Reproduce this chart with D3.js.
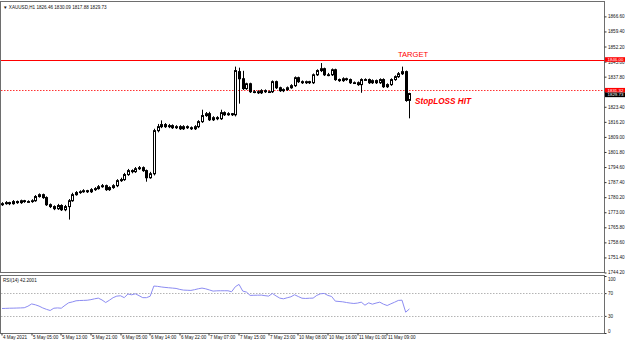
<!DOCTYPE html>
<html>
<head>
<meta charset="utf-8">
<script src="https://cdn.jsdelivr.net/npm/d3@7"></script>
<style>
  body { margin: 0; background: #fff; }
  svg { display: block; font-family: 'Liberation Sans', Arial, sans-serif; }
</style>
</head>
<body>
<svg id="chart"></svg>
<script>
// XAUUSD H1 bars
const opens = [
  1776.6, 1777.1, 1777.6, 1777.1, 1778.1, 1777.6, 1778.5, 1778.1, 1778.1, 1778.5,
  1780.5, 1781.4, 1780.0, 1776.6, 1775.7, 1774.7, 1776.2, 1774.2, 1775.7, 1778.5,
  1781.4, 1782.4, 1782.8, 1783.3, 1782.8, 1783.8, 1784.3, 1785.2, 1785.7, 1783.8,
  1784.8, 1785.7, 1788.1, 1788.6, 1791.0, 1792.9, 1792.4, 1793.8, 1794.3, 1792.9,
  1789.5, 1791.4, 1812.0, 1813.9, 1814.9, 1813.9, 1814.4, 1813.4, 1813.9, 1812.9,
  1813.9, 1813.4, 1812.9, 1813.9, 1816.3, 1819.2, 1820.1, 1817.2, 1818.2, 1817.7,
  1820.6, 1819.6, 1820.1, 1819.6, 1840.2, 1836.8, 1832.1, 1834.4, 1830.6, 1830.6,
  1830.1, 1831.1, 1830.6, 1830.6, 1835.4, 1832.5, 1831.1, 1831.6, 1832.5, 1833.5,
  1837.3, 1835.4, 1834.9, 1835.4, 1834.9, 1838.7, 1840.7, 1841.6, 1838.7, 1838.7,
  1841.1, 1836.4, 1835.9, 1836.8, 1836.4, 1834.9, 1834.9, 1834.0, 1836.4, 1836.4,
  1834.9, 1835.9, 1834.9, 1836.4, 1833.0, 1834.0, 1836.4, 1837.8, 1839.2, 1840.2,
  1826.46
];
const highs = [
  1777.8, 1778.3, 1778.0, 1778.8, 1778.6, 1779.0, 1778.9, 1778.7, 1779.2, 1781.2,
  1782.0, 1781.9, 1780.6, 1777.2, 1776.3, 1777.0, 1776.8, 1776.5, 1779.3, 1782.3,
  1783.1, 1783.5, 1784.0, 1783.7, 1784.5, 1785.0, 1786.0, 1786.5, 1786.2, 1785.4,
  1786.4, 1788.8, 1789.5, 1791.8, 1793.7, 1793.5, 1794.6, 1795.1, 1794.9, 1793.4,
  1792.3, 1812.9, 1815.2, 1816.9, 1815.6, 1815.2, 1815.0, 1814.6, 1814.6, 1814.6,
  1814.5, 1814.0, 1814.6, 1817.0, 1822.0, 1820.9, 1821.0, 1818.9, 1818.9, 1822.0,
  1821.2, 1820.8, 1820.4, 1842.6, 1842.1, 1840.6, 1834.9, 1834.9, 1831.4, 1831.3,
  1831.8, 1831.7, 1831.2, 1836.0, 1835.9, 1833.0, 1832.2, 1833.1, 1834.2, 1837.9,
  1837.8, 1836.0, 1835.9, 1835.8, 1839.3, 1841.3, 1844.3, 1842.1, 1839.6, 1841.7,
  1841.6, 1836.9, 1837.5, 1837.3, 1836.9, 1835.5, 1835.5, 1837.0, 1837.0, 1836.9,
  1836.5, 1836.4, 1837.0, 1837.0, 1834.6, 1837.0, 1838.4, 1840.0, 1842.6, 1840.7,
  1830.09
];
const lows = [
  1776.0, 1776.6, 1776.4, 1776.6, 1777.0, 1777.0, 1777.5, 1777.5, 1777.5, 1778.0,
  1780.0, 1779.4, 1776.0, 1775.0, 1774.0, 1774.1, 1773.6, 1773.5, 1769.5, 1778.0,
  1780.9, 1781.8, 1782.3, 1782.2, 1782.2, 1783.2, 1783.8, 1784.7, 1783.2, 1783.2,
  1784.2, 1785.0, 1787.5, 1788.0, 1790.4, 1791.6, 1791.8, 1793.2, 1792.3, 1787.6,
  1789.0, 1790.6, 1811.2, 1813.2, 1813.3, 1813.2, 1812.8, 1812.8, 1812.3, 1812.3,
  1812.8, 1812.3, 1812.3, 1813.2, 1815.7, 1818.6, 1816.6, 1816.6, 1817.0, 1817.1,
  1819.0, 1819.1, 1819.0, 1818.8, 1824.9, 1831.4, 1831.5, 1830.0, 1829.9, 1829.5,
  1829.5, 1830.0, 1830.0, 1830.0, 1831.9, 1830.5, 1830.4, 1831.0, 1832.0, 1832.9,
  1834.8, 1834.3, 1834.3, 1834.3, 1834.3, 1838.1, 1840.0, 1838.1, 1838.0, 1838.1,
  1835.8, 1835.3, 1835.3, 1835.8, 1834.3, 1834.3, 1833.4, 1830.1, 1835.8, 1834.3,
  1834.3, 1834.3, 1834.3, 1832.4, 1832.4, 1833.4, 1835.8, 1837.2, 1838.6, 1825.8,
  1817.88
];
const closes = [
  1777.1, 1777.6, 1777.1, 1778.1, 1777.6, 1778.5, 1778.1, 1778.1, 1778.5, 1780.5,
  1781.4, 1780.0, 1776.6, 1775.7, 1774.7, 1776.2, 1774.2, 1775.7, 1778.5, 1781.4,
  1782.4, 1782.8, 1783.3, 1782.8, 1783.8, 1784.3, 1785.2, 1785.7, 1783.8, 1784.8,
  1785.7, 1788.1, 1788.6, 1791.0, 1792.9, 1792.4, 1793.8, 1794.3, 1792.9, 1789.5,
  1791.4, 1812.0, 1813.9, 1814.9, 1813.9, 1814.4, 1813.4, 1813.9, 1812.9, 1813.9,
  1813.4, 1812.9, 1813.9, 1816.3, 1819.2, 1820.1, 1817.2, 1818.2, 1817.7, 1820.6,
  1819.6, 1820.1, 1819.6, 1840.7, 1836.8, 1832.1, 1834.4, 1830.6, 1830.6, 1830.1,
  1831.1, 1830.6, 1830.6, 1835.4, 1832.5, 1831.1, 1831.6, 1832.5, 1833.5, 1837.3,
  1835.4, 1834.9, 1835.4, 1834.9, 1838.7, 1840.7, 1841.6, 1838.7, 1838.7, 1841.1,
  1836.4, 1835.9, 1836.8, 1836.4, 1834.9, 1834.9, 1834.0, 1836.4, 1836.4, 1834.9,
  1835.9, 1834.9, 1836.4, 1833.0, 1834.0, 1836.4, 1837.8, 1839.2, 1840.2, 1826.4,
  1829.73
];
const rsiValues = [
  43.0, 43.2, 43.5, 43.6, 43.8, 44.0, 44.3, 47.0, 51.0, 49.5,
  47.2, 44.0, 41.5, 39.5, 43.5, 44.0, 43.5, 48.5, 53.0, 54.5,
  56.5, 57.0, 57.2, 57.5, 58.5, 60.0, 61.2, 58.0, 53.5, 57.5,
  62.0, 64.7, 65.3, 62.0, 68.5, 67.0, 68.8, 65.5, 62.0, 62.0,
  64.5, 82.4, 81.8, 80.8, 80.0, 79.4, 78.8, 78.2, 76.5, 75.3,
  75.0, 74.7, 76.0, 77.6, 78.8, 77.5, 75.5, 73.5, 74.0, 74.1,
  74.1, 74.1, 72.4, 81.2, 85.3, 73.5, 71.8, 65.9, 66.2, 66.3,
  66.5, 65.5, 64.7, 69.4, 65.0, 61.2, 60.0, 61.8, 63.5, 67.1,
  64.0, 61.0, 60.6, 61.0, 61.2, 66.0, 68.8, 69.4, 65.9, 64.1,
  55.9, 55.3, 54.7, 53.5, 52.5, 51.8, 52.5, 54.1, 48.8, 52.9,
  50.6, 52.5, 54.1, 50.6, 48.2, 51.2, 54.0, 57.1, 57.6, 36.5,
  42.2
];

const priceTicks = [1866.6, 1859.4, 1852.2, 1845.0, 1837.8, 1830.6, 1823.4, 1816.2, 1809.0,
  1801.8, 1794.6, 1787.4, 1780.2, 1773.0, 1765.8, 1758.6, 1751.4, 1744.2];
const timeTickBars = [0, 8, 16, 24, 32, 40, 48, 56, 64, 72, 80, 88, 96, 104];
const timeTickLabels = ['4 May 2021', '5 May 05:00', '5 May 13:00', '5 May 21:00', '6 May 05:00',
  '6 May 14:00', '6 May 22:00', '7 May 07:00', '7 May 15:00', '7 May 23:00', '10 May 08:00',
  '10 May 16:00', '11 May 01:00', '11 May 09:00'];
const rsiTicks = [100, 70, 30, 0];
const rsiLevels = [70, 30];

const targetPrice = 1846.00;
const stopPrice = 1831.32;
const bidPrice = 1829.73;
const chartTitle = '\u25BC XAUUSD,H1  1826.46 1830.09 1817.88 1829.73';
const rsiTitle = 'RSI(14) 42.2001';

const width = 625;
const height = 343;
const plotRight = 604.5;
const mainTop = 1.5;
const mainBottom = 272.5;
const rsiTop = 275.5;
const rsiBottom = 333.5;
const red = '#ff0000';

const svg = d3.select('#chart')
  .attr('width', width)
  .attr('height', height);

const x = d3.scaleLinear()
  .domain([0, closes.length - 1])
  .range([2, 409.4]);

const y = d3.scaleLinear()
  .domain([1744.2, 1866.6])
  .range([mainBottom, 16.4]);

const yRsi = d3.scaleLinear()
  .domain([0, 100])
  .range([333, 276]);

const px = v => Math.round(v) + 0.5;

// tags sit on top of these tick labels in the terminal, so their text is not shown
const tagged = [targetPrice, stopPrice, bidPrice];
const coveredByTag = d => tagged.some(p => Math.abs(y(p) - y(d)) < 1.8);

// window frames
[[mainTop, mainBottom], [rsiTop, rsiBottom]].forEach(([t, b]) => {
  svg.append('rect')
    .attr('x', 0.5)
    .attr('y', t)
    .attr('width', plotRight - 0.5)
    .attr('height', b - t)
    .attr('fill', 'none')
    .attr('stroke', '#6e6e6e');
});

// price axis
const priceAxis = svg.append('g')
  .attr('transform', `translate(${plotRight},0)`)
  .call(d3.axisRight(y).tickValues(priceTicks).tickFormat(d3.format('.2f')).tickSize(2).tickPadding(1.5));
priceAxis.select('.domain').remove();
priceAxis.selectAll('text')
  .attr('font-size', 4.6)
  .attr('fill', '#111')
  .attr('opacity', d => (coveredByTag(d) ? 0 : 1));
priceAxis.selectAll('line').attr('stroke', '#333');

// rsi axis
const rsiAxis = svg.append('g')
  .attr('transform', `translate(${plotRight},0)`)
  .call(d3.axisRight(yRsi).tickValues(rsiTicks).tickSize(2).tickPadding(1.5));
rsiAxis.select('.domain').remove();
rsiAxis.selectAll('text')
  .attr('font-size', 4.6)
  .attr('fill', '#111')
  .attr('dy', d => (d === 100 ? '0.95em' : d === 0 ? '-0.2em' : '0.32em'));
rsiAxis.selectAll('line').attr('stroke', '#333');

// time axis
const timeAxis = svg.append('g')
  .attr('transform', `translate(0,${rsiBottom})`)
  .call(d3.axisBottom(x).tickValues(timeTickBars).tickFormat((d, i) => timeTickLabels[i]).tickSize(2));
timeAxis.select('.domain').remove();
timeAxis.selectAll('.tick').attr('transform', d => `translate(${px(x(d)) - 0.5},0)`);
timeAxis.selectAll('text')
  .attr('font-size', 4.6)
  .attr('fill', '#111')
  .attr('text-anchor', 'start')
  .attr('x', 1)
  .attr('y', 2.5);
timeAxis.selectAll('line').attr('stroke', '#333');

// titles
svg.append('text')
  .attr('x', 3)
  .attr('y', 8.5)
  .attr('font-size', 4.6)
  .attr('fill', '#111')
  .text(chartTitle);

svg.append('text')
  .attr('x', 3)
  .attr('y', 282)
  .attr('font-size', 4.6)
  .attr('fill', '#111')
  .text(rsiTitle);

// rsi levels
svg.selectAll('.rsi-level')
  .data(rsiLevels)
  .enter()
  .append('line')
  .attr('class', 'rsi-level')
  .attr('x1', 1)
  .attr('x2', plotRight)
  .attr('y1', d => px(yRsi(d)))
  .attr('y2', d => px(yRsi(d)))
  .attr('stroke', '#b4b4b4')
  .attr('stroke-dasharray', '1.5,1.5');

// rsi line
svg.append('path')
  .datum(rsiValues)
  .attr('d', d3.line().x((d, i) => x(i)).y(d => yRsi(d)))
  .attr('fill', 'none')
  .attr('stroke', '#8c8cf2')
  .attr('stroke-width', 1);

// target and stop lines
svg.append('line')
  .attr('x1', 1)
  .attr('x2', plotRight)
  .attr('y1', px(y(targetPrice)))
  .attr('y2', px(y(targetPrice)))
  .attr('stroke', red)
  .attr('stroke-width', 1);

svg.append('line')
  .attr('x1', 1)
  .attr('x2', plotRight)
  .attr('y1', px(y(stopPrice)))
  .attr('y2', px(y(stopPrice)))
  .attr('stroke', red)
  .attr('stroke-opacity', 0.8)
  .attr('stroke-dasharray', '1.5,1.5');

// candles
const bars = d3.range(closes.length);
const candle = svg.selectAll('.candle')
  .data(bars)
  .enter()
  .append('g')
  .attr('class', 'candle');

candle.append('line')
  .attr('x1', i => px(x(i)))
  .attr('x2', i => px(x(i)))
  .attr('y1', i => y(highs[i]))
  .attr('y2', i => y(lows[i]))
  .attr('stroke', '#000')
  .attr('stroke-width', 1);

candle.append('rect')
  .attr('x', i => Math.round(x(i)) - 0.5)
  .attr('y', i => y(Math.max(opens[i], closes[i])))
  .attr('width', 2)
  .attr('height', i => Math.max(0.8, Math.abs(y(opens[i]) - y(closes[i]))))
  .attr('fill', i => (closes[i] >= opens[i] ? '#fff' : '#000'))
  .attr('stroke', '#000')
  .attr('stroke-width', 1);

// annotations
svg.append('text')
  .attr('x', 413)
  .attr('y', 57)
  .attr('text-anchor', 'middle')
  .attr('font-size', 7.6)
  .attr('fill', red)
  .text('TARGET');

svg.append('text')
  .attr('x', 415)
  .attr('y', 104)
  .attr('font-size', 8.2)
  .attr('font-weight', 'bold')
  .attr('font-style', 'italic')
  .attr('fill', red)
  .text('StopLOSS HIT');

// price tags on the axis
const priceTag = (value, fill, shift) => {
  const cy = y(value) + shift;
  svg.append('rect')
    .attr('x', plotRight + 0.5)
    .attr('y', cy - 2.3)
    .attr('width', width - plotRight)
    .attr('height', 4.6)
    .attr('fill', fill);
  svg.append('text')
    .attr('x', plotRight + 3)
    .attr('y', cy)
    .attr('dy', '0.34em')
    .attr('font-size', 4.4)
    .attr('fill', '#fff')
    .text(d3.format('.2f')(value));
};
priceTag(targetPrice, red, 0);
priceTag(stopPrice, red, 0);
priceTag(bidPrice, '#000', 1.3);
</script>
</body>
</html>
